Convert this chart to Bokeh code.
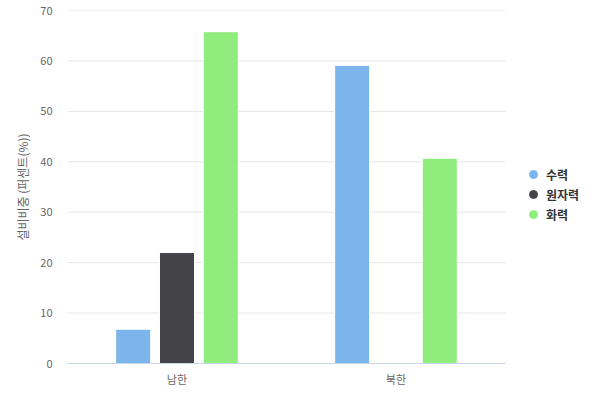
from bokeh.plotting import figure
from bokeh.models import ColumnDataSource, Range1d, Legend, LegendItem, FixedTicker
from bokeh.transform import dodge
from bokeh.embed import file_html
from bokeh.resources import INLINE

regions = ["남한", "북한"]
series_names = ["수력", "원자력", "화력"]
hydro = [6.8, 59.1]
nuclear = [22.0, 0.0]
thermal = [65.8, 40.7]
colors = ["#7cb5ec", "#434348", "#90ed7d"]
y_ticks = [0, 10, 20, 30, 40, 50, 60, 70]

FONT = "Noto Sans CJK KR"

# category slots: one unit per region, centred on i + 0.5
pos = [i + 0.5 for i in range(len(regions))]
n_cat = len(regions)

source = ColumnDataSource(data={
    "pos": pos,
    "region": regions,
    "수력": hydro,
    "원자력": nuclear,
    "화력": thermal,
})

# frame runs to the right edge so the legend can sit inside it
p = figure(x_range=Range1d(0, 2.434), y_range=Range1d(0, 70),
           width=600, height=400, output_backend="svg",
           toolbar_location=None, tools="")
p.min_border_left = 67
p.min_border_right = 0
p.min_border_top = 10
p.min_border_bottom = 37
p.outline_line_color = None
p.background_fill_color = "white"
p.xgrid.grid_line_color = None
p.ygrid.grid_line_color = None

# horizontal grid lines only across the category area
p.segment(x0=0, x1=n_cat, y0=y_ticks, y1=y_ticks, line_color="#e6e6e6", line_width=1)

offsets = [-0.2, 0.0, 0.2]
for name, off, col in zip(series_names, offsets, colors):
    p.vbar(x=dodge("pos", off), top=name, width=0.16,
           source=source, fill_color=col, line_color="white", line_width=1)

# circle markers for the legend only (nan point, never drawn in the plot)
nan = float("nan")
legend_items = []
for name, col in zip(series_names, colors):
    m = p.scatter(x=[nan], y=[nan], marker="circle", size=11,
                  fill_color=col, line_color=col)
    legend_items.append(LegendItem(label=name, renderers=[m]))

# legend marker size follows the glyph box
legend = Legend(items=legend_items, location=(456, 139))
legend.border_line_color = None
legend.background_fill_alpha = 0
legend.padding = 0
legend.margin = 0
legend.spacing = 0
legend.glyph_width = 20
legend.glyph_height = 20
legend.label_height = 20
legend.label_standoff = 3
legend.label_text_font = FONT
legend.label_text_font_size = "12px"
legend.label_text_font_style = "bold"
legend.label_text_color = "#333333"
p.add_layout(legend, "center")

p.yaxis.ticker = FixedTicker(ticks=y_ticks)
p.yaxis.axis_line_color = None
p.yaxis.major_tick_line_color = None
p.yaxis.minor_tick_line_color = None
p.yaxis.major_tick_out = 0
p.yaxis.major_label_standoff = 15
p.yaxis.major_label_text_font = FONT
p.yaxis.major_label_text_font_size = "11px"
p.yaxis.major_label_text_color = "#666666"
p.yaxis.axis_label = "설비비중 (퍼센트(%))"
p.yaxis.axis_label_text_font = FONT
p.yaxis.axis_label_text_font_size = "12px"
p.yaxis.axis_label_text_font_style = "normal"
p.yaxis.axis_label_text_color = "#666666"
p.yaxis.axis_label_standoff = 6

p.xaxis.ticker = FixedTicker(ticks=pos)
p.xaxis.major_label_overrides = {x: r for x, r in zip(pos, regions)}
p.xaxis.bounds = (0, n_cat)
p.xaxis.axis_line_color = "#ccd6eb"
p.xaxis.major_tick_line_color = None
p.xaxis.minor_tick_line_color = None
p.xaxis.major_tick_out = 0
p.xaxis.major_label_standoff = 7
p.xaxis.major_label_text_font = FONT
p.xaxis.major_label_text_font_size = "11px"
p.xaxis.major_label_text_color = "#666666"

open("out.html", "w").write(file_html(p, INLINE))
